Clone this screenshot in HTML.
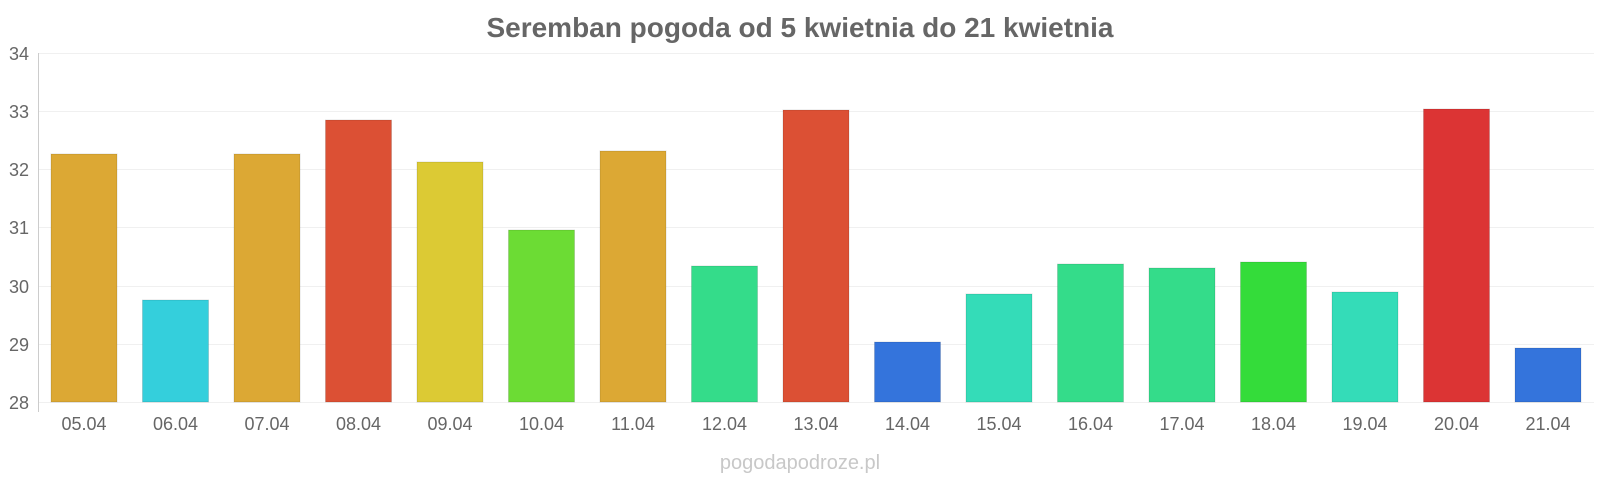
<!DOCTYPE html>
<html><head><meta charset="utf-8"><style>
body{margin:0;background:#fff;}
svg text{font-family:"Liberation Sans",sans-serif;}
</style></head><body>
<svg width="1600" height="480" xmlns="http://www.w3.org/2000/svg">
<text x="800" y="37" text-anchor="middle" font-size="28" font-weight="bold" fill="#666">Seremban pogoda od 5 kwietnia do 21 kwietnia</text>
<g stroke="#f0f0f0" stroke-width="1">
<line x1="39" x2="1594" y1="53.5" y2="53.5"/><line x1="39" x2="1594" y1="111.5" y2="111.5"/><line x1="39" x2="1594" y1="169.5" y2="169.5"/><line x1="39" x2="1594" y1="227.5" y2="227.5"/><line x1="39" x2="1594" y1="286.5" y2="286.5"/><line x1="39" x2="1594" y1="344.5" y2="344.5"/><line x1="39" x2="1594" y1="402.5" y2="402.5"/>
</g>
<line x1="38.5" x2="38.5" y1="53" y2="412" stroke="#ccc"/>
<g font-size="18" fill="#666" text-anchor="end">
<text x="29" y="60">34</text><text x="29" y="118">33</text><text x="29" y="176">32</text><text x="29" y="234">31</text><text x="29" y="293">30</text><text x="29" y="351">29</text><text x="29" y="409">28</text>
</g>
<g stroke="rgba(0,0,0,0.12)" stroke-width="1">
<rect x="51" y="154" width="66" height="248" fill="#dca834"/>
<rect x="142.5" y="300" width="66" height="102" fill="#34cfdc"/>
<rect x="234" y="154" width="66" height="248" fill="#dca834"/>
<rect x="325.5" y="120" width="66" height="282" fill="#dc5034"/>
<rect x="417" y="162" width="66" height="240" fill="#dcca34"/>
<rect x="508.5" y="230" width="66" height="172" fill="#6cdc34"/>
<rect x="600" y="151" width="66" height="251" fill="#dca834"/>
<rect x="691.5" y="266" width="66" height="136" fill="#34dc8a"/>
<rect x="783" y="110" width="66" height="292" fill="#dc5034"/>
<rect x="874.5" y="342" width="66" height="60" fill="#3474dc"/>
<rect x="966" y="294" width="66" height="108" fill="#34dcb8"/>
<rect x="1057.5" y="264" width="66" height="138" fill="#34dc8a"/>
<rect x="1149" y="268" width="66" height="134" fill="#34dc8a"/>
<rect x="1240.5" y="262" width="66" height="140" fill="#34dc3a"/>
<rect x="1332" y="292" width="66" height="110" fill="#34dcb8"/>
<rect x="1423.5" y="109" width="66" height="293" fill="#dc3434"/>
<rect x="1515" y="348" width="66" height="54" fill="#3474dc"/>
</g>
<g font-size="18" fill="#666" text-anchor="middle">
<text x="84" y="430">05.04</text><text x="175.5" y="430">06.04</text><text x="267" y="430">07.04</text><text x="358.5" y="430">08.04</text><text x="450" y="430">09.04</text><text x="541.5" y="430">10.04</text><text x="633" y="430">11.04</text><text x="724.5" y="430">12.04</text><text x="816" y="430">13.04</text><text x="907.5" y="430">14.04</text><text x="999" y="430">15.04</text><text x="1090.5" y="430">16.04</text><text x="1182" y="430">17.04</text><text x="1273.5" y="430">18.04</text><text x="1365" y="430">19.04</text><text x="1456.5" y="430">20.04</text><text x="1548" y="430">21.04</text>
</g>
<text x="800" y="469" text-anchor="middle" font-size="20" fill="#c8c8c8">pogodapodroze.pl</text>
</svg>
</body></html>
